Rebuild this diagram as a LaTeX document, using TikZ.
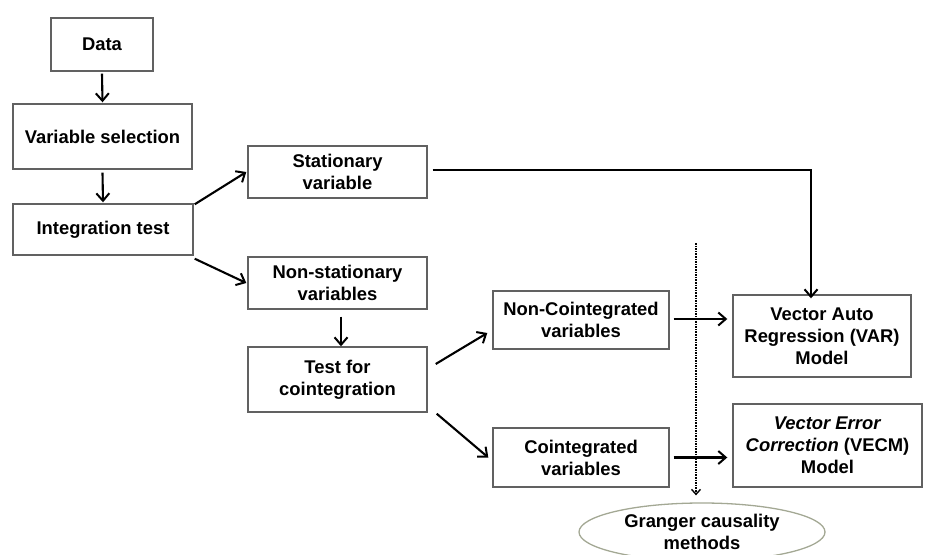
\documentclass[tikz,border=0pt]{standalone}
\usepackage{fontspec}
\setmainfont{Liberation Sans}
\usetikzlibrary{arrows.meta,shapes.geometric}
\definecolor{ellcol}{HTML}{A3A894}
\begin{document}
\begin{tikzpicture}[x=1pt,y=-1pt,
  box/.style={draw=black!62,line width=1.4pt,rectangle,inner sep=0pt,align=center,
    font=\fontsize{18.4}{22}\selectfont\bfseries},
  arr/.style={line width=2.1pt,-{Straight Barb[length=7.5pt,width=13pt,line width=2pt]}},
  dotarr/.style={line width=1.6pt,densely dotted,-{Straight Barb[length=5pt,width=9pt,line width=1.4pt,sep=0pt]}}
]
\useasboundingbox (0,0) rectangle (925,554);
\node[box,minimum width=102pt,minimum height=53pt] (data) at (102,44.5) {Data};
\node[box,minimum width=179pt,minimum height=65pt] (vs) at (102.5,136.5) {Variable selection};
\node[box,minimum width=180pt,minimum height=51pt] (it) at (103,229.5) {Integration test};
\node[box,minimum width=179pt,minimum height=52pt] (st) at (337.5,172) {Stationary\\variable};
\node[box,minimum width=179pt,minimum height=52pt] (ns) at (337.5,283) {Non-stationary\\variables};
\node[box,minimum width=179pt,minimum height=65pt] (tc) at (337.5,379.5) {Test for\\cointegration};
\node[box,minimum width=176pt,minimum height=58pt] (nc) at (581,320) {Non-Cointegrated\\variables};
\node[box,minimum width=176pt,minimum height=59pt] (co) at (581,457.5) {Cointegrated\\variables};
\node[box,minimum width=178pt,minimum height=82pt] (var) at (822,336) {Vector Auto\\Regression (VAR)\\Model};
\node[box,minimum width=189pt,minimum height=83pt] (vecm) at (827.5,445.5) {\textit{Vector Error}\\\textit{Correction} (VECM)\\Model};
\node[ellipse,draw=ellcol,line width=1.3pt,minimum width=246pt,minimum height=58pt,inner sep=0pt,align=center,
  font=\fontsize{18.4}{22.5}\selectfont\bfseries] (gr) at (702,532) {Granger causality\\methods};
\coordinate (dtop) at (696,243);

\draw[arr] ([yshift=-2pt]data.south) -- ([yshift=1pt]vs.north);
\draw[arr] ([yshift=-3pt]vs.south) -- ([yshift=1pt]it.north);
\draw[arr] ([xshift=1pt,yshift=-1pt]it.north east) -- ([xshift=-1pt]st.west);
\draw[arr] ([xshift=1pt,yshift=-3pt]it.south east) -- ([xshift=-1pt]ns.west);
\draw[arr] ([xshift=3.5pt,yshift=-7pt]ns.south) -- ([yshift=0pt,xshift=3.5pt]tc.north);
\draw[arr] ([xshift=5pt,yshift=2pt]st.east) -| ([xshift=-11pt,yshift=-4pt]var.north);
\draw[arr] ([xshift=8pt,yshift=15.5pt]tc.east) -- ([xshift=-5pt,yshift=-13pt]nc.west);
\draw[arr] ([xshift=9pt,yshift=-1pt]tc.south east) -- ([xshift=-4pt]co.west);
\draw[arr] ([xshift=4pt,yshift=1pt]nc.east) -- ([xshift=-5pt,yshift=1pt]var.west |- nc.east);
\draw[arr] ([xshift=4pt]co.east) -- ([xshift=-5pt]vecm.west |- co.east);
\draw[dotarr] (dtop) -- ([yshift=7pt]dtop |- gr.north);
\end{tikzpicture}
\end{document}
